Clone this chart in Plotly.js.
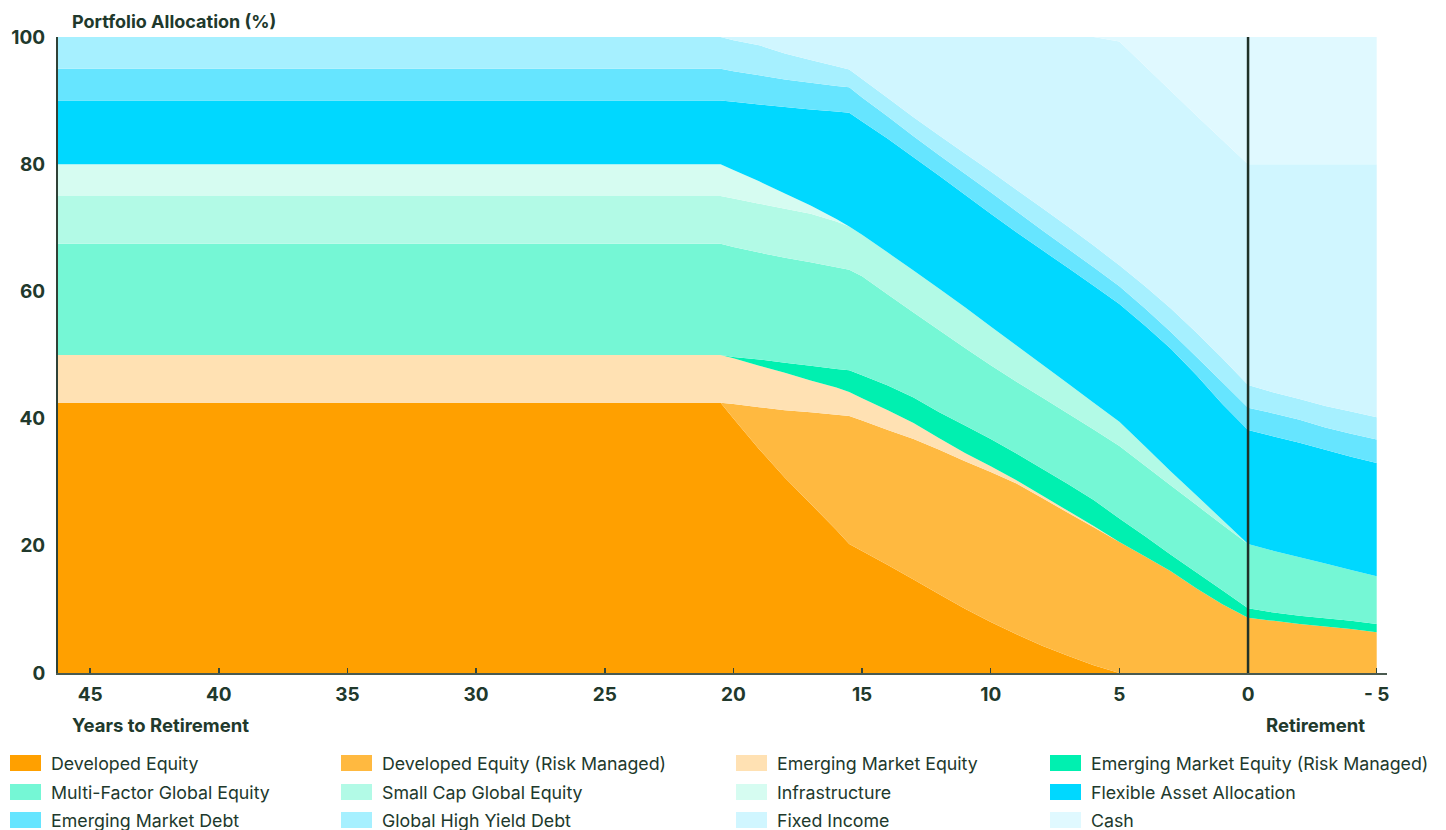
<!DOCTYPE html>
<html>
<head>
<meta charset="utf-8">
<script src="https://cdn.plot.ly/plotly-3.0.1.min.js"></script>
<style>
  html, body { margin: 0; padding: 0; background: #ffffff; }
  #chart { width: 1446px; height: 830px; }
</style>
</head>
<body>
<div id="chart"></div>
<script>
// Years to retirement (x axis, reversed)
const years = [46.25, 20.5, 20, 19, 18, 17, 16, 15.5, 15, 14, 13, 12, 11, 10, 9, 8, 7, 6, 5, 4, 3, 2, 1, 0, -1, -2, -3, -4, -5];

// Allocation per asset class (%)
const developedEquity    = [42.5, 42.5, 40.0, 35.2, 30.7, 26.6, 22.5, 20.3, 19.2, 17.0, 14.7, 12.4, 10.1, 8.0, 6.1, 4.3, 2.7, 1.2, 0, 0, 0, 0, 0, 0, 0, 0, 0, 0, 0];
const developedEquityRM  = [0, 0, 2.3, 6.6, 10.6, 14.4, 18.1, 20.1, 20.5, 21.2, 22.1, 22.7, 23.2, 23.6, 23.7, 23.2, 22.5, 21.7, 20.6, 18.3, 16.0, 13.3, 10.8, 8.7, 8.2, 7.7, 7.3, 6.9, 6.4];
const emergingEquity     = [7.5, 7.5, 7.2, 6.5, 5.9, 5.0, 4.3, 3.8, 3.5, 3.1, 2.5, 1.8, 1.3, 0.9, 0.5, 0.4, 0.3, 0.2, 0, 0, 0, 0, 0, 0, 0, 0, 0, 0, 0];
const emergingEquityRM   = [0, 0, 0.2, 1.0, 1.6, 2.3, 2.9, 3.4, 3.6, 3.9, 4.0, 4.1, 4.3, 4.3, 4.2, 4.2, 4.2, 4.1, 3.7, 3.2, 2.6, 2.5, 2.2, 1.5, 1.3, 1.3, 1.3, 1.3, 1.3];
const multiFactorEquity  = [17.5, 17.5, 17.3, 16.8, 16.5, 16.3, 16.0, 15.8, 15.6, 14.3, 13.4, 12.9, 12.2, 11.6, 11.3, 11.2, 11.1, 11.1, 11.4, 11.1, 10.9, 10.6, 10.3, 10.1, 9.7, 9.2, 8.6, 8.0, 7.5];
const smallCapEquity     = [7.5, 7.5, 7.6, 7.7, 7.7, 7.6, 7.2, 6.8, 6.5, 6.6, 6.6, 6.5, 6.4, 6.1, 5.7, 5.2, 4.7, 4.2, 3.8, 3.0, 2.2, 1.5, 0.8, 0, 0, 0, 0, 0, 0];
const infrastructure     = [5, 5, 4.5, 3.5, 2.4, 1.3, 0.4, 0, 0, 0, 0, 0, 0, 0, 0, 0, 0, 0, 0, 0, 0, 0, 0, 0, 0, 0, 0, 0, 0];
const flexibleAsset      = [10, 10, 10.7, 12.1, 13.6, 15.1, 16.9, 17.9, 17.8, 17.9, 17.8, 17.8, 17.7, 17.7, 17.8, 18.0, 18.2, 18.4, 18.5, 19.0, 19.3, 18.9, 18.2, 17.9, 18.0, 18.0, 17.9, 17.8, 17.8];
const emergingDebt       = [5, 5, 4.8, 4.6, 4.3, 4.2, 4.0, 4.0, 3.8, 3.5, 3.3, 3.2, 3.3, 3.4, 3.3, 3.1, 3.0, 2.9, 2.8, 2.7, 2.6, 2.9, 3.4, 3.5, 3.6, 3.6, 3.5, 3.6, 3.7];
const highYieldDebt      = [5, 5, 4.9, 4.7, 4.1, 3.6, 3.1, 2.8, 2.9, 2.9, 3.0, 3.1, 3.2, 3.3, 3.4, 3.5, 3.5, 3.4, 3.3, 3.5, 3.7, 3.8, 3.8, 3.6, 3.3, 3.3, 3.4, 3.5, 3.5];
const fixedIncome        = [0, 0, 0.5, 1.3, 2.6, 3.6, 4.6, 5.1, 6.6, 9.6, 12.6, 15.5, 18.3, 21.1, 24.0, 26.9, 29.8, 32.8, 35.2, 34.6, 34.2, 34.1, 34.3, 34.7, 35.9, 36.9, 38.0, 38.9, 39.8];
const cash               = [0, 0, 0, 0, 0, 0, 0, 0, 0, 0, 0, 0, 0, 0, 0, 0, 0, 0, 0.7, 4.6, 8.5, 12.4, 16.2, 20, 20, 20, 20, 20, 20];

const seriesNames = [
  "Developed Equity", "Developed Equity (Risk Managed)", "Emerging Market Equity", "Emerging Market Equity (Risk Managed)",
  "Multi-Factor Global Equity", "Small Cap Global Equity", "Infrastructure", "Flexible Asset Allocation",
  "Emerging Market Debt", "Global High Yield Debt", "Fixed Income", "Cash"
];
const seriesValues = [
  developedEquity, developedEquityRM, emergingEquity, emergingEquityRM,
  multiFactorEquity, smallCapEquity, infrastructure, flexibleAsset,
  emergingDebt, highYieldDebt, fixedIncome, cash
];

const xTickVals = [45, 40, 35, 30, 25, 20, 15, 10, 5, 0, -5];
const xTickText = ["45", "40", "35", "30", "25", "20", "15", "10", "5", "0", "- 5"];
const yTickVals = [0, 20, 40, 60, 80, 100];

// Styles
const seriesColors = [
  "#FFA000", "#FFB940", "#FFE1B3", "#00F0B0",
  "#75F7D5", "#B2FAE6", "#D6FCF1", "#00D8FF",
  "#66E5FF", "#A6F0FF", "#D0F6FF", "#E0F9FF"
];
const ink = "#21392c";
const W = 1446, H = 830;
const M = { l: 58, r: 59, t: 37, b: 157 };
const plotW = W - M.l - M.r, plotH = H - M.t - M.b;
const px2paperX = px => (px - M.l) / plotW;
const py2paperY = py => (H - M.b - py) / plotH;

const traces = seriesNames.map((name, i) => ({
  type: "scatter",
  x: years,
  y: seriesValues[i],
  name: name,
  mode: "none",
  stackgroup: "alloc",
  groupnorm: i === 0 ? "percent" : undefined,
  fill: "tonexty",
  fillcolor: seriesColors[i],
  line: { width: 0 },
  hoverinfo: "skip",
  showlegend: false
}));

// Custom legend: 4 columns x 3 rows
const colTextX = [52, 383, 778, 1092];
const rowY = [763, 792, 820];
const shapes = [];
const annotations = [];
seriesNames.forEach((name, i) => {
  const row = Math.floor(i / 4), col = i % 4;
  const tx = colTextX[col];
  const cy = rowY[row];
  shapes.push({
    type: "rect", xref: "paper", yref: "paper",
    x0: px2paperX(tx - 42), x1: px2paperX(tx - 11),
    y0: py2paperY(cy + 8), y1: py2paperY(cy - 8),
    fillcolor: seriesColors[i], line: { width: 0 }, layer: "above"
  });
  annotations.push({
    xref: "paper", yref: "paper", x: px2paperX(tx - 3), y: py2paperY(cy),
    xanchor: "left", yanchor: "middle", showarrow: false, text: name,
    font: { family: "Inter, Roboto, sans-serif", size: 17.8, color: ink }
  });
});

// Retirement line
shapes.push({
  type: "line", xref: "x", yref: "y", x0: 0, x1: 0, y0: 0, y1: 100,
  line: { color: "#1f3128", width: 2.5 }, layer: "above"
});

annotations.push(
  { xref: "paper", yref: "paper", x: px2paperX(70), y: py2paperY(22), xanchor: "left", yanchor: "middle",
    showarrow: false, text: "Portfolio Allocation (%)",
    font: { family: "Inter, sans-serif", size: 18, color: ink, weight: 700 } },
  { xref: "paper", yref: "paper", x: px2paperX(70), y: py2paperY(725), xanchor: "left", yanchor: "middle",
    showarrow: false, text: "Years to Retirement",
    font: { family: "Inter, sans-serif", size: 18.5, color: ink, weight: 700 } },
  { xref: "paper", yref: "paper", x: px2paperX(1315), y: py2paperY(725), xanchor: "center", yanchor: "middle",
    showarrow: false, text: "Retirement",
    font: { family: "Inter, sans-serif", size: 18.5, color: ink, weight: 700 } }
);

const layout = {
  width: W, height: H,
  margin: M,
  paper_bgcolor: "#ffffff",
  plot_bgcolor: "#ffffff",
  showlegend: false,
  xaxis: {
    range: [46.25, -5.4],
    tickvals: xTickVals, ticktext: xTickText,
    ticks: "inside", ticklen: 5, tickwidth: 1.5, tickcolor: "#33473b",
    showline: true, linecolor: "#4a5a50", linewidth: 2,
    showgrid: false, zeroline: false,
    ticklabelstandoff: 3,
    tickfont: { family: "Inter, sans-serif", size: 19, color: ink, weight: 700 },
    fixedrange: true
  },
  yaxis: {
    range: [0, 100],
    tickvals: yTickVals,
    ticks: "", showline: true, linecolor: "#2f4237", linewidth: 2,
    showgrid: false, zeroline: false,
    ticklabelstandoff: 7,
    tickfont: { family: "Inter, sans-serif", size: 19, color: ink, weight: 700 },
    fixedrange: true
  },
  shapes: shapes,
  annotations: annotations
};

Plotly.newPlot("chart", traces, layout, { displayModeBar: false, staticPlot: true });
</script>
</body>
</html>
